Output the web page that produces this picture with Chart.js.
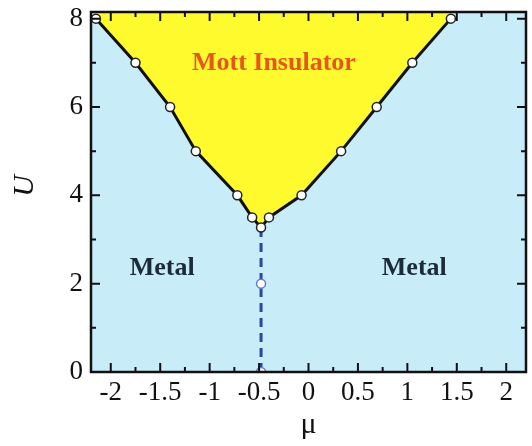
<!DOCTYPE html>
<html>
<head>
<meta charset="utf-8">
<script src="https://cdn.jsdelivr.net/npm/chart.js@4"></script>
<style>
  html, body { margin: 0; padding: 0; background: #fff; }
  #wrap { width: 532px; height: 446px; }
</style>
</head>
<body>
<div id="wrap"><canvas id="phase"></canvas></div>
<script>
// boundary of the Mott insulator (left branch, tip, right branch)
const leftMu  = [-2.15, -1.75, -1.40, -1.14, -0.72, -0.57];
const leftU   = [8, 7, 6, 5, 4, 3.5];
const tipMu   = [-0.48];
const tipU    = [3.27];
const rightMu = [-0.40, -0.07, 0.33, 0.69, 1.05, 1.44];
const rightU  = [3.5, 4, 5, 6, 7, 8];

// dashed line below the tip
const dashMu = [-0.48, -0.48, -0.48];
const dashU  = [0, 2, 3.27];

// region labels
const labelText = ["Mott Insulator", "Metal", "Metal"];
const labelMu   = [-0.35, -1.48, 1.07];
const labelU    = [7.0, 2.35, 2.35];

const xMin = -2.2, xMax = 2.2, yMin = 0, yMax = 8.15;

const boundary = []
  .concat(leftMu.map((m, i) => ({ x: m, y: leftU[i] })))
  .concat(tipMu.map((m, i) => ({ x: m, y: tipU[i] })))
  .concat(rightMu.map((m, i) => ({ x: m, y: rightU[i] })));
const dashed = dashMu.map((m, i) => ({ x: m, y: dashU[i] }));

const SERIF = "'Liberation Serif', 'DejaVu Serif', serif";

// light blue background of the plot
const bgPlugin = {
  id: "bg",
  beforeDatasetsDraw(chart) {
    const { ctx, chartArea: a } = chart;
    ctx.save();
    ctx.fillStyle = "#c9ecf9";
    ctx.fillRect(a.left, a.top, a.right - a.left, a.bottom - a.top);
    ctx.restore();
  }
};

// frame, inward ticks, labels
const framePlugin = {
  id: "frame",
  afterDatasetsDraw(chart) {
    const { ctx, chartArea: a, scales: { x, y } } = chart;
    ctx.save();
    ctx.strokeStyle = "#111";
    ctx.lineWidth = 2;
    ctx.beginPath();
    for (let v = -2; v <= 2.001; v += 0.25) {
      const px = x.getPixelForValue(v);
      const len = Math.abs(v * 2 - Math.round(v * 2)) < 1e-6 ? 9 : 5;
      ctx.moveTo(px, a.bottom); ctx.lineTo(px, a.bottom - len);
      ctx.moveTo(px, a.top); ctx.lineTo(px, a.top + len);
    }
    for (let v = 0; v <= 8; v += 1) {
      const py = y.getPixelForValue(v);
      const len = v % 2 === 0 ? 9 : 5;
      ctx.moveTo(a.left, py); ctx.lineTo(a.left + len, py);
      ctx.moveTo(a.right, py); ctx.lineTo(a.right - len, py);
    }
    ctx.stroke();
    ctx.lineWidth = 2.5;
    ctx.strokeRect(a.left, a.top, a.right - a.left, a.bottom - a.top);

    ctx.textAlign = "center";
    ctx.textBaseline = "middle";
    labelText.forEach((t, i) => {
      ctx.font = "bold 26px " + SERIF;
      ctx.fillStyle = i === 0 ? "#e8561c" : "#1b2b3b";
      ctx.fillText(t, x.getPixelForValue(labelMu[i]), y.getPixelForValue(labelU[i]));
    });

    ctx.fillStyle = "#111";
    ctx.font = "30px " + SERIF;
    ctx.fillText("\u03bc", x.getPixelForValue(0), 425);
    ctx.save();
    ctx.translate(25, 186);
    ctx.rotate(-Math.PI / 2);
    ctx.font = "italic 30px " + SERIF;
    ctx.fillText("U", 0, 0);
    ctx.restore();
    ctx.restore();
  }
};

new Chart(document.getElementById("phase"), {
  type: "scatter",
  data: {
    datasets: [
      {
        data: boundary,
        showLine: true,
        borderColor: "#111",
        borderWidth: 3,
        backgroundColor: "#fffa2e",
        fill: "end",
        pointRadius: 4.5,
        pointBackgroundColor: "#fff",
        pointBorderColor: "#222",
        pointBorderWidth: 1.5,
        order: 1
      },
      {
        data: dashed,
        showLine: true,
        borderColor: "#2848a8",
        borderWidth: 3,
        borderDash: [9, 6],
        fill: false,
        pointRadius: [4.5, 4.5, 0],
        pointBackgroundColor: "#fff",
        pointBorderColor: "#6a78c8",
        pointBorderWidth: 1.5,
        order: 2
      }
    ]
  },
  options: {
    responsive: true,
    maintainAspectRatio: false,
    animation: false,
    layout: { padding: { left: 0, right: 5, top: 0, bottom: 0 } },
    plugins: { legend: { display: false }, tooltip: { enabled: false } },
    scales: {
      x: {
        type: "linear",
        min: xMin, max: xMax,
        grid: { display: false, drawTicks: false },
        border: { display: false },
        ticks: {
          stepSize: 0.5, includeBounds: false, padding: 5,
          color: "#111", font: { family: SERIF, size: 27 },
          maxRotation: 0, autoSkip: false,
          callback: (v) => String(Math.round(v * 10) / 10)
        },
        afterFit(s) { s.height = 74; s.paddingLeft = 0; s.paddingRight = 0; }
      },
      y: {
        type: "linear",
        min: yMin, max: yMax,
        grid: { display: false, drawTicks: false },
        border: { display: false },
        ticks: {
          stepSize: 2, includeBounds: false, padding: 8,
          color: "#111", font: { family: SERIF, size: 27 },
          callback: (v) => String(v)
        },
        afterFit(s) { s.width = 91; s.paddingTop = 12; s.paddingBottom = 0; }
      }
    }
  },
  plugins: [bgPlugin, framePlugin]
});
</script>
</body>
</html>
